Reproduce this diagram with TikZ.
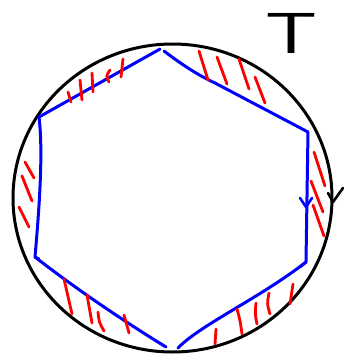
\documentclass[tikz,border=0pt]{standalone}
\usepackage{tikz}
\usetikzlibrary{arrows.meta}
\definecolor{clrRim}{HTML}{000000}
\definecolor{clrHex}{HTML}{0000FF}
\definecolor{clrHatch}{HTML}{FF0000}

\begin{document}
\begin{tikzpicture}[
  x=1pt, y=-1pt,
  rim/.style = {
    draw=clrRim,
    line width=3pt
  },
  hexside/.style = {
    draw=clrHex,
    line width=3pt,
    line cap=round,
    line join=round
  },
  hatch/.style = {
    draw=clrHatch,
    line width=2.8pt,
    line cap=round
  },
  tick/.style = {
    line width=2.6pt,
    line cap=round,
    line join=round
  },
  letter/.style = {
    font=\sffamily\fontsize{58}{58}\selectfont,
    text=clrRim,
    inner sep=0pt
  }
]

\useasboundingbox (0,0) rectangle (344,360);

% ── vertices ─────────────────────────────────────────────────────────────────
\coordinate (vTopL) at (160,49);
\coordinate (vTopR) at (164,51);
\coordinate (vUR)   at (308,132);
\coordinate (vLR)   at (306,262);
\coordinate (vBotR) at (178,348);
\coordinate (vBotL) at (166,347);
\coordinate (vLL)   at (35,257);
\coordinate (vUL)   at (39,117);

% ── rim ──────────────────────────────────────────────────────────────────────
\draw[rim] (172.5,198) ellipse [x radius=159.5pt, y radius=154pt];

% ── hexagon ──────────────────────────────────────────────────────────────────
\draw[hexside] (vUL) -- (vTopL);
\draw[hexside] (vTopR) .. controls (185,67) and (200,76) .. (215,83) -- (vUR);
\draw[hexside] (vUR) -- (vLR) -- (300,267);
\draw[hexside] (vBotR) .. controls (200,325) and (260,298) .. (vLR);
\draw[hexside] (vLL) .. controls (80,292) and (130,325) .. (vBotL);
\draw[hexside] (vUL) .. controls (43,150) and (40,200) .. (vLL) -- (39,259);

% ── hatching ─────────────────────────────────────────────────────────────────
% upper left
\draw[hatch] (68,92) -- (71,102);
\draw[hatch] (80,80) -- (82,100);
\draw[hatch] (92,73) -- (93,92);
\draw[hatch] (110,70) .. controls (106,76) .. (109,82);
\draw[hatch] (123,59) -- (121,77);
% upper right
\draw[hatch] (199,51) -- (208,80);
\draw[hatch] (217,57) -- (227,84);
\draw[hatch] (239,59) -- (249,89);
\draw[hatch] (255,77) -- (265,103);
% right
\draw[hatch] (314,152) -- (325,186);
\draw[hatch] (311,181) -- (323,212);
\draw[hatch] (313,205) -- (324,236);
% left
\draw[hatch] (25,162) -- (34,178);
\draw[hatch] (22,176) -- (32,201);
\draw[hatch] (19,207) -- (29,227);
% lower left
\draw[hatch] (64,279) -- (72,314);
\draw[hatch] (87,295) -- (92,323);
\draw[hatch] (98,312) .. controls (99,322) .. (104,331);
\draw[hatch] (124,315) -- (129,333);
% lower right
\draw[hatch] (216,329) -- (215,344);
\draw[hatch] (237,309) .. controls (240,320) .. (242,334);
\draw[hatch] (256,303) .. controls (255,314) .. (257,324);
\draw[hatch] (269,293) .. controls (267,304) .. (270,314);
\draw[hatch] (293,284) -- (290,304);

% ── direction marks ──────────────────────────────────────────────────────────
\draw[tick, draw=clrHex] (300,198) -- (306,207) -- (312,198);
\draw[tick, draw=clrRim] (328,193) -- (333,202) -- (343,188);

% ── label ────────────────────────────────────────────────────────────────────
\node[letter] (lblT) at (292,33) {\scalebox{1.4}[1]{T}};

\end{tikzpicture}
\end{document}
